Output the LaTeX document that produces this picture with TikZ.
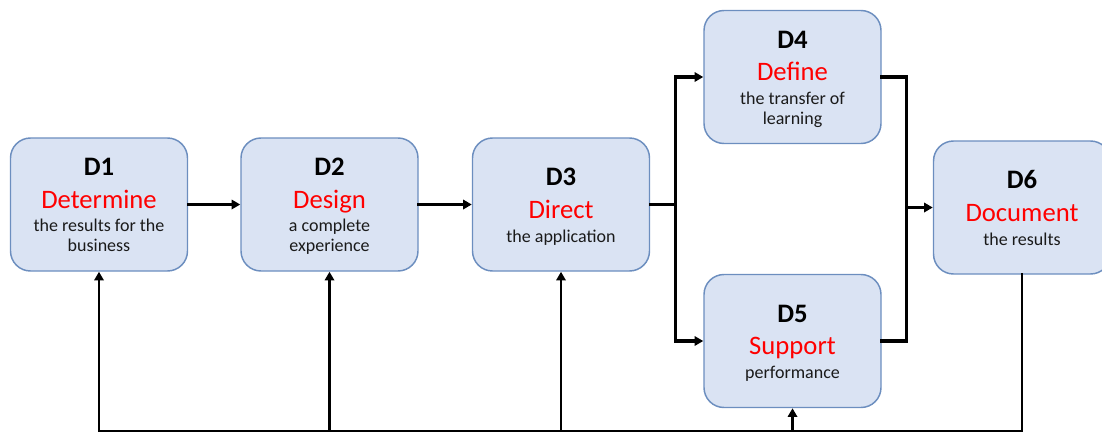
\documentclass[tikz,border=0pt]{standalone}
\usepackage{fontspec}
\setmainfont{Carlito}
\usetikzlibrary{arrows.meta,calc}
\definecolor{boxfill}{HTML}{DAE3F3}
\definecolor{boxline}{HTML}{6C8EBF}
\definecolor{txtred}{HTML}{FF0000}
\definecolor{txtgray}{HTML}{1A1A1A}
\begin{document}
\begin{tikzpicture}[x=0.75pt,y=-0.75pt,
  dbox/.style={draw=boxline, line width=1.1pt, fill=boxfill, rounded corners=15pt,
    minimum width=132.75pt, minimum height=99.75pt, inner sep=0pt},
  dnum/.style={anchor=base, font=\fontsize{20}{24}\selectfont\bfseries, inner sep=0pt},
  dverb/.style={anchor=base, font=\fontsize{20}{24}\selectfont, text=txtred, inner sep=0pt},
  ddesc/.style={anchor=base, font=\fontsize{13.5}{16}\selectfont, text=txtgray, inner sep=0pt},
  conn/.style={line width=2.3pt, black, line cap=rect},
  fback/.style={line width=1.9pt, black, line cap=rect},
  tip/.style={-{Triangle[length=6.5pt,width=7pt]}},
  arr/.style={conn, tip},
  farr/.style={fback, tip}]
\useasboundingbox (0,0) rectangle (1102,433);

% boxes
\node[dbox] (d1) at (99,204.5) {};
\node[dbox] (d2) at (329.5,204.5) {};
\node[dbox] (d3) at (561,204.5) {};
\node[dbox] (d4) at (792.5,77) {};
\node[dbox] (d5) at (792.5,341) {};
\node[dbox] (d6) at (1022,207.5) {};

% texts: two description lines
\node[dnum]  (d1n) at ($(d1.center)+(0,-29)$) {D1};
\node[dverb] (d1v) at ($(d1.center)+(0,3.5)$) {Determine};
\node[ddesc] (d1a) at ($(d1.center)+(0,27)$) {the results for the};
\node[ddesc] (d1b) at ($(d1.center)+(0,47)$) {business};

\node[dnum]  (d2n) at ($(d2.center)+(0,-29)$) {D2};
\node[dverb] (d2v) at ($(d2.center)+(0,3.5)$) {Design};
\node[ddesc] (d2a) at ($(d2.center)+(0,27)$) {a complete};
\node[ddesc] (d2b) at ($(d2.center)+(0,47)$) {experience};

\node[dnum]  (d4n) at ($(d4.center)+(0,-29)$) {D4};
\node[dverb] (d4v) at ($(d4.center)+(0,3.5)$) {Define};
\node[ddesc] (d4a) at ($(d4.center)+(0,27)$) {the transfer of};
\node[ddesc] (d4b) at ($(d4.center)+(0,47)$) {learning};

% texts: one description line
\node[dnum]  (d3n) at ($(d3.center)+(0,-19)$) {D3};
\node[dverb] (d3v) at ($(d3.center)+(0,13.5)$) {Direct};
\node[ddesc] (d3a) at ($(d3.center)+(0,37.5)$) {the application};

\node[dnum]  (d5n) at ($(d5.center)+(0,-19)$) {D5};
\node[dverb] (d5v) at ($(d5.center)+(0,13.5)$) {Support};
\node[ddesc] (d5a) at ($(d5.center)+(0,37.5)$) {performance};

\node[dnum]  (d6n) at ($(d6.center)+(0,-19)$) {D6};
\node[dverb] (d6v) at ($(d6.center)+(0,13.5)$) {Document};
\node[ddesc] (d6a) at ($(d6.center)+(0,37.5)$) {the results};

% main flow
\draw[arr] (d1) -- (d2);
\draw[arr] (d2) -- (d3);
\coordinate (j1) at ($(d3.east)+(25.5,0)$);
\draw[conn] (d3.east) -- (j1);
\draw[arr] (j1) |- (d4.west);
\draw[arr] (j1) |- (d5.west);
\coordinate (j2) at ($(d6.west)+(-26.5,0)$);
\draw[conn] (d4.east) -| (j2);
\draw[conn] (d5.east) -| (j2);
\draw[arr] (j2) -- (d6.west);

% feedback loop
\coordinate (fb) at (1022,431);
\draw[fback] (d6.south) -- (fb) -- (fb -| d1.south);
\draw[farr] (d1.south |- fb) -- (d1.south);
\draw[farr] (d2.south |- fb) -- (d2.south);
\draw[farr] (d3.south |- fb) -- (d3.south);
\draw[farr] (d5.south |- fb) -- (d5.south);
\end{tikzpicture}
\end{document}
